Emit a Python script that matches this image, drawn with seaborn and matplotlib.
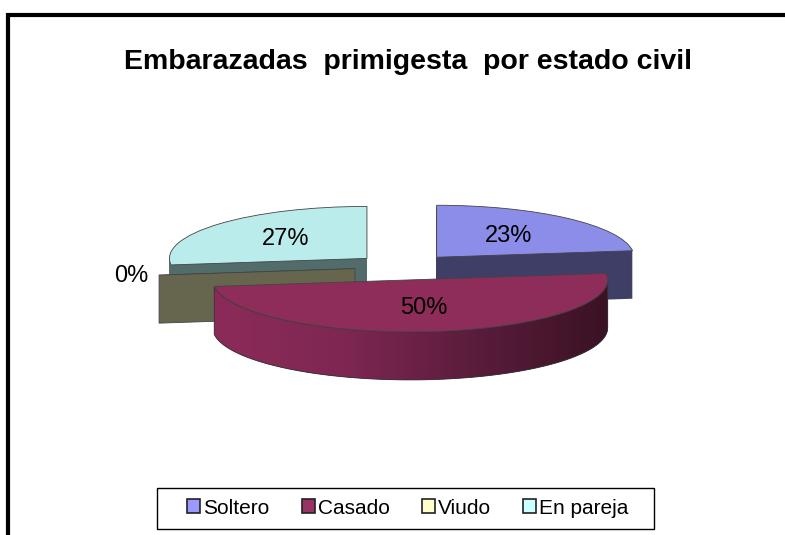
import numpy as np
import matplotlib
matplotlib.use("Agg")
import matplotlib.pyplot as plt
import seaborn as sns
from matplotlib.patches import Rectangle, Polygon
from matplotlib.colors import LinearSegmentedColormap

# data
categories = ["Soltero", "Casado", "Viudo", "En pareja"]
values = [23, 50, 0, 27]
title = "Embarazadas  primigesta  por estado civil"

# colours (Excel 2003 style)
legend_colors = ["#9999ff", "#993366", "#ffffcc", "#ccffff"]
top_colors = ["#8c8ce9", "#8e2c5a", "#ffffcc", "#bbecec"]
side_colors = ["#3e3e66", "#6a2144", "#66664f", "#526c6c"]

sns.set_theme(style="white")
plt.rcParams['font.family'] = ['Liberation Sans', 'DejaVu Sans']
plt.rcParams['text.color'] = 'black'

W, H = 785, 535
fig = plt.figure(figsize=(W / 100, H / 100), dpi=100)
ax = fig.add_axes([0, 0, 1, 1])

# pie geometry in pixels: horizontal radius, vertical radius, thickness, centre
rx, ry, depth_px = 197.5, 52, 48
cx_px, cy_px = 404, 267
explode = [0.25] * len(values)
depth = depth_px / ry

# side walls: stack the pie downwards, darker colours
n_layers = 48
for k in range(n_layers, 0, -1):
    dz = depth * k / n_layers
    wedges, _ = ax.pie(values, explode=explode, startangle=90, counterclock=False,
                       colors=side_colors, center=(0, -dz), radius=1,
                       wedgeprops=dict(linewidth=0))
    for i, w in enumerate(wedges):
        w.set_zorder(3 if categories[i] == "Casado" else 1)

# top faces with percentage labels
wedges, _, autotexts = ax.pie(values, explode=explode, startangle=90, counterclock=False,
                              colors=top_colors, radius=1, autopct='%.0f%%',
                              pctdistance=0.55,
                              wedgeprops=dict(linewidth=0.6, edgecolor="#444444"),
                              textprops=dict(fontsize=17, color="black"))
for i, w in enumerate(wedges):
    w.set_zorder(4 if categories[i] == "Casado" else 2)

# angle bookkeeping for the 3d bits
total = sum(values)
cum = np.cumsum([0] + values[:-1]) / total
th1 = 90 - 360 * cum
th2 = 90 - 360 * (cum + np.array(values) / total)
mid = np.radians((th1 + th2) / 2)

for i, t in enumerate(autotexts):
    t.set_zorder(10)
    if values[i] == 0:
        d = np.array([np.cos(mid[i]), np.sin(mid[i])])
        t.set_position(tuple((explode[i] + 1.14) * d))

# zero slice (Viudo): only its cut face shows
for i, v in enumerate(values):
    if v == 0:
        d = np.array([np.cos(mid[i]), np.sin(mid[i])])
        apex = explode[i] * d
        rim = apex + d
        quad = [apex, rim, rim - [0, depth], apex - [0, depth]]
        ax.add_patch(Polygon(quad, closed=True, facecolor=side_colors[i],
                             edgecolor="#444444", lw=0.6, zorder=2.5))

# Casado front wall with a shading gradient
i = categories.index("Casado")
d = np.array([np.cos(mid[i]), np.sin(mid[i])])
apex = explode[i] * d
t = np.radians(np.linspace(th2[i], min(th1[i], 0), 80))
top_arc = np.column_stack([apex[0] + np.cos(t), apex[1] + np.sin(t)])
bot_arc = top_arc - [0, depth]
wall = Polygon(np.vstack([top_arc, bot_arc[::-1]]), closed=True,
               facecolor="none", edgecolor="#333333", lw=0.6, zorder=3.6)
ax.add_patch(wall)
shade = LinearSegmentedColormap.from_list(
    "shade", ["#8c2b59", "#7e2752", "#5a1c3b", "#3a1224"])
grad = np.linspace(0, 1, 256).reshape(1, -1)
im = ax.imshow(grad, cmap=shade, aspect='auto', zorder=3.5,
               extent=[apex[0] - 1, apex[0] + 1, apex[1] - 1 - depth, apex[1] + 0.2])
im.set_clip_path(wall)

ax.set_aspect('auto')
ax.set_xlim(-cx_px / rx, (W - cx_px) / rx)
ax.set_ylim(-(H - cy_px) / ry, cy_px / ry)
ax.axis('off')

# title
fig.text(408 / W, 1 - 62 / H, title, ha='center', va='center',
         fontsize=20.5, fontweight='bold', color='black')

# legend (entries without frame, box drawn separately for the wider padding)
handles = [Rectangle((0, 0), 1, 1, facecolor=c, edgecolor="#222222", lw=1.2)
           for c in legend_colors]
leg = fig.legend(handles, categories, loc='center', bbox_to_anchor=(408 / W, 1 - 508 / H),
                 ncol=4, fontsize=15, frameon=False,
                 handlelength=0.62, handleheight=0.62, handletextpad=0.15,
                 columnspacing=1.55, borderpad=0.4)
fig.add_artist(Rectangle((157 / W, 1 - 529 / H), 497 / W, 41 / H,
                         transform=fig.transFigure, fill=False, lw=1.0,
                         edgecolor='black'))

# outer chart border (runs off the right and bottom)
fig.add_artist(Rectangle((8 / W, -1), 2, 1 - 15 / H + 1, transform=fig.transFigure,
                         fill=False, lw=3, edgecolor='black'))

plt.savefig("out.png", dpi=100)
plt.close()
